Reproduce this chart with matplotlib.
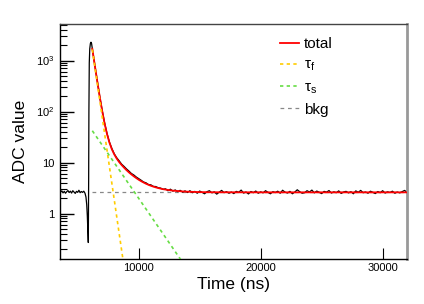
import numpy as np
import matplotlib
matplotlib.use("Agg")
import matplotlib.pyplot as plt
from matplotlib.ticker import FixedLocator, LogLocator, FuncFormatter, NullFormatter

plt.rcParams['font.family'] = ['Liberation Sans', 'DejaVu Sans']
plt.rcParams['mathtext.fontset'] = 'custom'
plt.rcParams['mathtext.rm'] = 'Liberation Sans'
plt.rcParams['mathtext.it'] = 'Liberation Sans'
plt.rcParams['mathtext.default'] = 'regular'

### waveform
pre_t = np.arange(3600, 5600, 100)
pre_v = [2.62, 2.78, 2.54, 2.72, 2.5, 2.68, 2.82, 2.58, 2.74, 2.52,
         2.8, 2.64, 2.48, 2.72, 2.6, 2.86, 2.56, 2.7, 2.6, 2.74]

spike_t = [5600, 5680, 5740, 5790, 5830, 5870, 5900, 5920, 5950, 5990, 6040, 6090, 6140]
spike_v = [2.5, 2.1, 1.5, 0.9, 0.5, 0.27, 5, 100, 900, 1700, 2150, 2290, 2150]

tail_t = np.arange(6200, 32001, 200)
tail_v = [1700, 830, 405, 203, 108, 61, 37.5, 25.3, 18.9, 14.8,
          12.4, 10.8, 9.3, 8.4, 7.5, 6.8, 6.1, 5.7, 5.2, 4.85,
          4.5, 4.15, 4.0, 3.7, 3.65, 3.4, 3.38, 3.2, 3.15, 2.98,
          3.05, 2.8, 3.0, 2.75, 2.9, 2.68, 2.85, 2.62, 2.78, 2.58,
          2.8, 2.56, 2.72, 2.5, 2.76, 2.6, 2.44, 2.68, 2.8, 2.54,
          2.66, 2.4, 2.62, 2.84, 2.56, 2.68, 2.5, 2.64, 2.46, 2.72,
          2.6, 2.88, 2.52, 2.64, 2.42, 2.7, 2.56, 2.76, 2.5, 2.66,
          2.54, 2.8, 2.6, 2.44, 2.68, 2.58, 2.74, 2.5, 2.86, 2.62,
          2.52, 2.72, 2.44, 2.64, 2.92, 2.68, 2.5, 2.56, 2.8, 2.64,
          2.88, 2.54, 2.76, 2.6, 2.46, 2.72, 2.62, 2.82, 2.52, 2.66,
          2.56, 2.78, 2.48, 2.64, 2.72, 2.54, 2.68, 2.44, 2.78, 2.6,
          2.84, 2.56, 2.64, 2.5, 2.74, 2.6, 2.46, 2.7, 2.56, 2.8,
          2.52, 2.66, 2.58, 2.74, 2.5, 2.64, 2.54, 2.68, 2.84, 2.6]

### fit curves
total_t = [6200, 6400, 6600, 6800, 7000, 7200, 7400, 7600, 7800, 8000, 8200, 8400,
           8600, 8800, 9000, 9200, 9400, 9600, 9800, 10000, 10200, 10400, 10600,
           10800, 11000, 11200, 11400, 11600, 11800, 12000, 12400, 12800, 13200,
           13600, 14000, 15000, 16000, 20000, 32000]
total_v = [1695, 813, 398, 200, 105, 59.4, 36.5, 24.7, 18.2, 14.4, 11.95, 10.2,
           8.95, 7.94, 7.1, 6.41, 5.85, 5.37, 4.96, 4.6, 4.31, 4.06, 3.84,
           3.66, 3.5, 3.37, 3.26, 3.16, 3.08, 3.0, 2.9, 2.81, 2.76,
           2.71, 2.68, 2.63, 2.61, 2.6, 2.6]
fast_t = [6200, 8800]
fast_v = [1650, 0.09]
slow_t = [6200, 14000]
slow_v = [42, 0.08]
bkg_t = [6200, 32000]
bkg_v = [2.6, 2.6]

fig = plt.figure(figsize=(4.24, 3.04), dpi=100)
ax = fig.add_axes([0.1415, 0.149, 0.8185, 0.772])

ax.plot(np.concatenate([pre_t, spike_t, tail_t]), pre_v + spike_v + tail_v,
        color='black', lw=0.9, zorder=2)
ax.plot(total_t, total_v, color='#ff0000', lw=1.3, label='total', zorder=3)
ax.plot(fast_t, fast_v, color='#ffcc00', lw=1.2, ls=(0, (2, 2)), label=r'τ$_{f}$', zorder=4)
ax.plot(slow_t, slow_v, color='#66dd44', lw=1.2, ls=(0, (2, 2)), label=r'τ$_{s}$', zorder=4)
ax.plot(bkg_t, bkg_v, color='#888888', lw=0.9, ls=(0, (3, 3)), label='bkg', zorder=1)

ax.set_yscale('log')
ax.set_xlim(3550, 32000)
ax.set_ylim(0.13, 5200)

ax.xaxis.set_major_locator(FixedLocator([10000, 20000, 30000]))
ax.yaxis.set_major_locator(LogLocator(base=10))
ax.yaxis.set_minor_locator(LogLocator(base=10, subs=np.arange(2, 10)))
ax.yaxis.set_minor_formatter(NullFormatter())
labs = {1: '1', 10: '10', 100: r'$10^{2}$', 1000: r'$10^{3}$'}
ax.yaxis.set_major_formatter(FuncFormatter(lambda v, p: labs.get(int(round(v)), '')))

ax.tick_params(axis='both', which='both', direction='in', labelsize=8, top=False, right=False)
ax.tick_params(axis='y', which='major', length=10, width=1.0, pad=4)
ax.tick_params(axis='y', which='minor', length=5, width=0.8)
ax.tick_params(axis='x', which='major', length=8, width=0.8, pad=3)

for s in ['left', 'bottom']:
    ax.spines[s].set_color('black')
    ax.spines[s].set_linewidth(1.0)
ax.spines['top'].set_color('#444444')
ax.spines['top'].set_linewidth(1.0)
ax.spines['right'].set_color('#999999')
ax.spines['right'].set_linewidth(2.0)

ax.set_xlabel('Time (ns)', fontsize=12.5)
ax.set_ylabel('ADC value', fontsize=12.5, labelpad=6)
ax.xaxis.set_label_coords(0.5, -0.08)

ax.legend(loc='upper left', bbox_to_anchor=(0.615, 0.97), frameon=False, fontsize=11,
          handlelength=1.3, handletextpad=0.3, labelspacing=0.45, borderaxespad=0)

fig.savefig('out.png', dpi=100)
